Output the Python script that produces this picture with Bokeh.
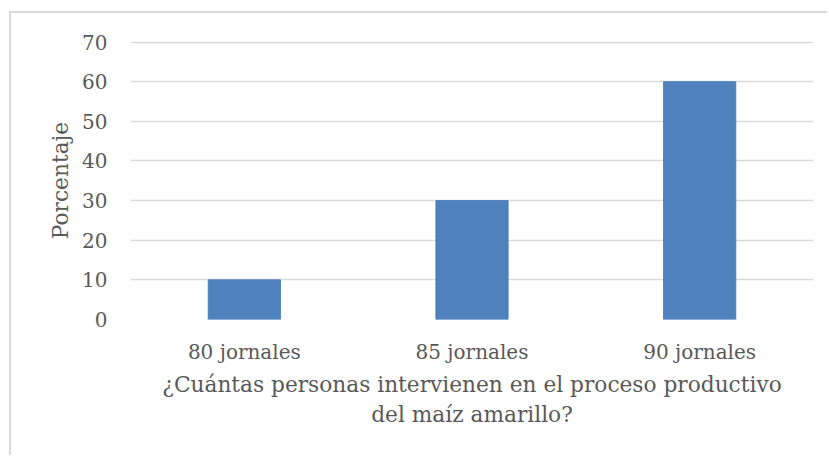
from bokeh.plotting import figure
from bokeh.models import Range1d, FactorRange
from bokeh.embed import file_html
from bokeh.resources import INLINE

categories = ["80 jornales", "85 jornales", "90 jornales"]
values = [10, 30, 60]
y_ticks = [0, 10, 20, 30, 40, 50, 60, 70]

FONT = "DejaVu Serif"
TXT = "#595959"
GRID = "#d9d9d9"

p = figure(width=818, height=444, x_range=FactorRange(*categories, range_padding=0),
           y_range=Range1d(0, 70.15), output_backend="svg", toolbar_location=None,
           min_border_left=119, min_border_right=16, min_border_top=28, min_border_bottom=138)
p.styles = {"border-left": "2px solid #d9d9d9", "border-top": "2px solid #d9d9d9",
            "margin-left": "9px", "margin-top": "11px"}

p.vbar(x=categories, top=values, width=0.317, color="#4f81bd")

p.outline_line_color = None
p.xgrid.grid_line_color = None
p.ygrid.grid_line_color = GRID
p.ygrid.grid_line_width = 1.5
p.yaxis.ticker = y_ticks

for ax in (p.xaxis, p.yaxis):
    ax.axis_line_color = None
    ax.major_tick_line_color = None
    ax.minor_tick_line_color = None
    ax.major_label_text_font = FONT
    ax.major_label_text_color = TXT
    ax.major_label_text_font_size = "20px"
    ax.axis_label_text_font = FONT
    ax.axis_label_text_color = TXT
    ax.axis_label_text_font_size = "21.7px"
    ax.axis_label_text_font_style = "normal"

p.xaxis.major_label_standoff = 14
p.yaxis.major_label_standoff = 17
p.xaxis.axis_label = "¿Cuántas personas intervienen en el proceso productivo\ndel maíz amarillo?"
p.xaxis.axis_label_standoff = 5
p.yaxis.axis_label = "Porcentaje"
p.yaxis.axis_label_standoff = 6

open("out.html", "w").write(file_html(p, INLINE))
